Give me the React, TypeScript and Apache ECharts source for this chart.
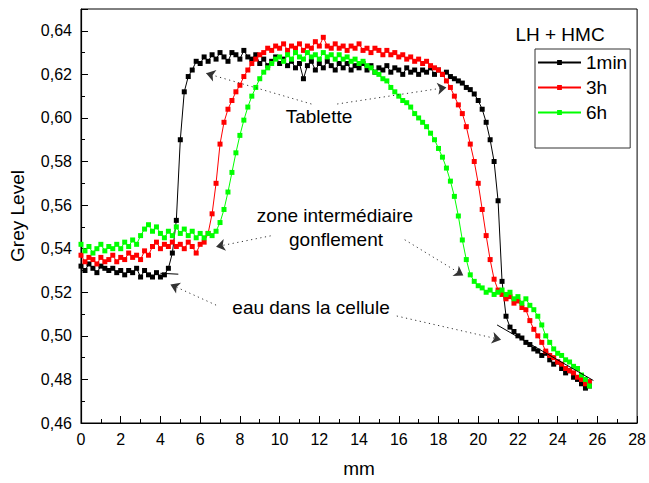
import React, { useEffect, useRef } from "react";
import * as echarts from "echarts";

// Sampling grid (mm)
const X_STEP = 0.2;

const BLACK_1MIN = [
  0.532, 0.530, 0.533, 0.531, 0.529, 0.532, 0.531, 0.530, 0.531, 0.529,
  0.530, 0.528, 0.530, 0.529, 0.531, 0.527, 0.530, 0.528, 0.527, 0.529,
  0.527, 0.528, 0.531, 0.538, 0.553, 0.590, 0.612, 0.619, 0.622, 0.626,
  0.625, 0.628, 0.626, 0.629, 0.627, 0.630, 0.628, 0.626, 0.630, 0.629,
  0.627, 0.631, 0.628, 0.627, 0.629, 0.625, 0.627, 0.624, 0.626, 0.628,
  0.625, 0.627, 0.624, 0.626, 0.623, 0.625, 0.618, 0.624, 0.626, 0.622,
  0.625, 0.623, 0.626, 0.624, 0.622, 0.625, 0.623, 0.625, 0.622, 0.624,
  0.623, 0.625, 0.622, 0.624, 0.621, 0.623, 0.622, 0.624, 0.621, 0.623,
  0.622, 0.620, 0.623, 0.621, 0.622, 0.620, 0.622, 0.621, 0.623, 0.620,
  0.622, 0.620, 0.621, 0.619, 0.618, 0.617, 0.616, 0.614, 0.613, 0.611,
  0.608, 0.604, 0.598, 0.590, 0.580, 0.562, 0.525, 0.509, 0.504, 0.502,
  0.500, 0.499, 0.497, 0.496, 0.494, 0.493, 0.491, 0.492, 0.489, 0.487,
  0.488, 0.485, 0.483, 0.484, 0.481, 0.480, 0.478, 0.476, 0.477,
];

const RED_3H = [
  0.537, 0.534, 0.536, 0.535, 0.533, 0.536, 0.534, 0.535, 0.537, 0.534,
  0.536, 0.535, 0.538, 0.536, 0.537, 0.535, 0.539, 0.537, 0.541, 0.543,
  0.540, 0.542, 0.541, 0.543, 0.541, 0.542, 0.540, 0.543, 0.541, 0.538,
  0.542, 0.543, 0.547, 0.556, 0.570, 0.588, 0.598, 0.604, 0.608, 0.612,
  0.615, 0.619, 0.622, 0.625, 0.627, 0.629, 0.630, 0.632, 0.631, 0.633,
  0.632, 0.634, 0.631, 0.633, 0.632, 0.634, 0.631, 0.633, 0.632, 0.635,
  0.633, 0.637, 0.633, 0.632, 0.634, 0.632, 0.633, 0.631, 0.633, 0.632,
  0.634, 0.631, 0.632, 0.630, 0.632, 0.631, 0.629, 0.631, 0.629, 0.630,
  0.628, 0.629, 0.627, 0.628, 0.626, 0.627, 0.625, 0.626, 0.624, 0.623,
  0.622, 0.620, 0.617, 0.614, 0.610, 0.606, 0.602, 0.596, 0.588, 0.580,
  0.570, 0.558, 0.546, 0.535, 0.526, 0.521, 0.519, 0.517, 0.518, 0.515,
  0.516, 0.513, 0.512, 0.507, 0.503, 0.500, 0.497, 0.493, 0.491, 0.490,
  0.488, 0.487, 0.485, 0.484, 0.483, 0.481, 0.480, 0.478, 0.479,
];

const GREEN_6H = [
  0.542, 0.539, 0.541, 0.538, 0.540, 0.542, 0.539, 0.541, 0.540, 0.542,
  0.540, 0.543, 0.541, 0.544, 0.542, 0.546, 0.549, 0.551, 0.548, 0.550,
  0.547, 0.545, 0.548, 0.546, 0.550, 0.547, 0.549, 0.546, 0.548, 0.545,
  0.547, 0.545, 0.547, 0.546, 0.548, 0.552, 0.558, 0.566, 0.575, 0.584,
  0.592, 0.599, 0.605, 0.610, 0.614, 0.618, 0.621, 0.623, 0.625, 0.627,
  0.628, 0.626, 0.629, 0.627, 0.630, 0.628, 0.627, 0.630, 0.628, 0.629,
  0.627, 0.630, 0.628, 0.629, 0.627, 0.629, 0.627, 0.628, 0.626, 0.627,
  0.625, 0.626, 0.624, 0.623, 0.621, 0.620, 0.618, 0.617, 0.614, 0.612,
  0.610, 0.608, 0.607, 0.605, 0.602, 0.600, 0.598, 0.596, 0.593, 0.590,
  0.586, 0.582, 0.577, 0.571, 0.564, 0.555, 0.544, 0.535, 0.528, 0.525,
  0.523, 0.522, 0.520, 0.521, 0.519, 0.520, 0.521, 0.519, 0.520, 0.517,
  0.518, 0.515, 0.517, 0.514, 0.512, 0.509, 0.505, 0.500, 0.497, 0.494,
  0.492, 0.491, 0.489, 0.488, 0.486, 0.485, 0.482, 0.480, 0.477,
];

// Linear fit segments [mm, grey]
const FIT_LEFT = [[4.0, 0.5287], [4.9, 0.5283]];
const FIT_RIGHT = [[20.95, 0.505], [25.8, 0.4795]];

// Annotation arrows: [start, end] in data coords
const ARROWS = [
  [[11.6, 0.6064], [6.3, 0.6205]],
  [[12.9, 0.6064], [18.4, 0.6140]],
  [[9.55, 0.5459], [6.8, 0.5409]],
  [[16.3, 0.5441], [19.25, 0.5277]],
  [[6.8, 0.5141], [4.5, 0.5236]],
  [[15.9, 0.5091], [21.15, 0.4982]],
];

const LEGEND_TITLE = "LH + HMC";
const SERIES_NAMES = ["1min", "3h", "6h"];
const SERIES_COLORS = ["#000000", "#ff0000", "#00ff00"];

const FONT = "Liberation Sans, Arial, sans-serif";

function toPairs(vals: number[]) {
  return vals.map((v, i) => [+(i * X_STEP).toFixed(1), v]);
}

export default function App() {
  const ref = useRef<HTMLDivElement>(null);
  useEffect(() => {
    if (!ref.current) return;
    const chart = echarts.init(ref.current, null, { renderer: "svg" });
    const seriesVals = [BLACK_1MIN, RED_3H, GREEN_6H];
    const dataSeries = seriesVals.map((vals, i) => ({
      name: SERIES_NAMES[i],
      type: "line",
      data: toPairs(vals),
      symbol: "rect",
      symbolSize: 5,
      showSymbol: true,
      color: SERIES_COLORS[i],
      lineStyle: { width: 1, color: SERIES_COLORS[i] },
      itemStyle: { color: SERIES_COLORS[i] },
      emphasis: { disabled: true },
      silent: true,
      z: 2 + i,
    }));
    const fitSeries = [FIT_LEFT, FIT_RIGHT].map((d) => ({
      name: "fit",
      type: "line",
      data: d,
      showSymbol: false,
      symbol: "none",
      lineStyle: { width: 1, color: "#000" },
      silent: true,
      z: 6,
    }));
    const arrowSeries = {
      name: "arrows",
      type: "line",
      data: [],
      silent: true,
      markLine: {
        silent: true,
        symbol: ["none", "arrow"],
        symbolSize: 9,
        label: { show: false },
        emphasis: { disabled: true },
        lineStyle: { type: [1.2, 3.5], width: 1, color: "#333" },
        itemStyle: { color: "#000" },
        data: ARROWS.map(([a, b]) => [{ coord: a }, { coord: b }]),
      },
      z: 7,
    };

    const textEl = (t: string, x: number, y: number) => ({
      type: "text",
      x,
      y,
      silent: true,
      style: {
        text: t,
        fill: "#000",
        font: `19px ${FONT}`,
        textAlign: "center",
        textVerticalAlign: "middle",
      },
    });

    chart.setOption({
      animation: false,
      textStyle: { fontFamily: FONT },
      grid: {
        left: 76,
        right: 10,
        top: 9,
        bottom: 56,
        show: true,
        borderColor: "#000",
        borderWidth: 1,
        backgroundColor: "transparent",
      },
      legend: {
        data: SERIES_NAMES,
        orient: "vertical",
        left: 535,
        top: 49,
        padding: [4, 3, 26, 2],
        itemGap: 6,
        itemWidth: 43,
        itemHeight: 6,
        borderColor: "#333",
        borderWidth: 1,
        selectedMode: false,
        textStyle: { fontSize: 19, lineHeight: 19, color: "#000", fontFamily: FONT },
      },
      xAxis: {
        type: "value",
        min: 0,
        max: 28,
        interval: 2,
        name: "mm",
        nameLocation: "middle",
        nameGap: 36,
        nameTextStyle: { fontSize: 19, color: "#000", fontFamily: FONT },
        axisLine: { lineStyle: { color: "#000", width: 1.2 } },
        axisTick: { inside: true, length: 7, lineStyle: { color: "#000" } },
        minorTick: { show: true, splitNumber: 2, length: 4, lineStyle: { color: "#000" } },
        splitLine: { show: false },
        axisLabel: { fontSize: 16, color: "#000", margin: 8, fontFamily: FONT },
      },
      yAxis: {
        type: "value",
        min: 0.46,
        max: 0.65,
        interval: 0.02,
        name: "Grey Level",
        nameLocation: "middle",
        nameGap: 54,
        nameTextStyle: { fontSize: 19, color: "#000", fontFamily: FONT },
        axisLine: { show: true, lineStyle: { color: "#000", width: 1.2 } },
        axisTick: { inside: true, length: 7, lineStyle: { color: "#000" } },
        minorTick: { show: true, splitNumber: 2, length: 4, lineStyle: { color: "#000" } },
        splitLine: { show: false },
        axisLabel: {
          fontSize: 16,
          color: "#000",
          margin: 9,
          fontFamily: FONT,
          formatter: (v: number) =>
            Math.abs(v - 0.65) < 1e-6 ? "" : v.toFixed(2).replace(".", ","),
        },
      },
      series: [...dataSeries, ...fitSeries, arrowSeries],
      graphic: [
        textEl(LEGEND_TITLE, 560, 34),
        textEl("Tablette", 319, 116),
        textEl("zone intermédiaire", 335, 215),
        textEl("gonflement", 336, 239),
        textEl("eau dans la cellule", 311, 307),
      ],
    });
    return () => chart.dispose();
  }, []);
  return (
    <div
      ref={ref}
      style={{ position: "fixed", left: 0, top: 0, width: 649, height: 483, background: "#fff" }}
    />
  );
}
